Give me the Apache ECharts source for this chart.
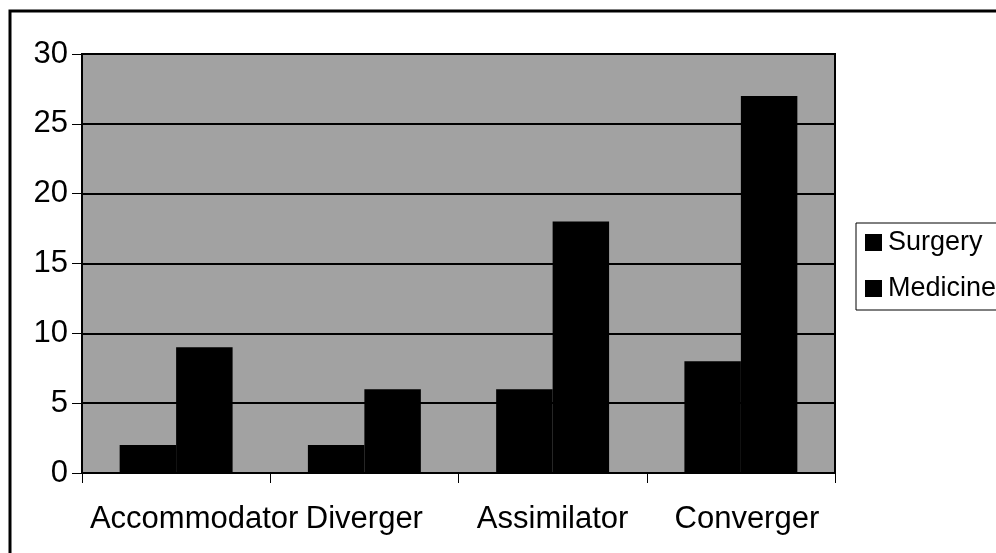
<!DOCTYPE html>
<html>
<head>
<meta charset="utf-8">
<script src="https://cdn.jsdelivr.net/npm/echarts@6/dist/echarts.min.js"></script>
<style>
  html, body { margin: 0; padding: 0; background: #fff; }
  #chart { width: 996px; height: 553px; }
</style>
</head>
<body>
<div id="chart"></div>
<script>
var categories = ['Accommodator', 'Diverger', 'Assimilator', 'Converger'];
var surgery = [2, 2, 6, 8];
var medicine = [9, 6, 18, 27];
var yTicks = [0, 5, 10, 15, 20, 25, 30];

var myChart = echarts.init(document.getElementById('chart'));
var font = 'Liberation Sans, Arial, sans-serif';
var option = {
	backgroundColor: '#fff',
	animation: false,
	graphic: [{
		type: 'rect',
		shape: { x: 10, y: 11, width: 1100, height: 700 },
		style: { fill: 'none', stroke: '#000', lineWidth: 3 },
		silent: true
	}],
	grid: {
		left: 82, right: 161, top: 54, bottom: 80,
		show: true,
		backgroundColor: '#a2a2a2',
		borderColor: '#000',
		borderWidth: 2
	},
	legend: {
		orient: 'vertical',
		left: 856, top: 223,
		width: 160,
		padding: [6, 40, 8, 9],
		itemGap: 19,
		itemWidth: 17, itemHeight: 17,
		icon: 'rect',
		backgroundColor: '#fff',
		borderColor: '#000',
		borderWidth: 1,
		borderRadius: 0,
		textStyle: { fontFamily: font, fontSize: 27, color: '#000', padding: [0, 0, 0, 1] },
		data: ['Surgery', 'Medicine']
	},
	xAxis: {
		type: 'category',
		data: categories,
		axisLine: { lineStyle: { color: '#000', width: 2 } },
		axisTick: { show: true, length: 10, lineStyle: { color: '#000', width: 1 } },
		axisLabel: {
			interval: 0,
			hideOverlap: false,
			margin: 31,
			color: '#000',
			fontFamily: font,
			fontSize: 31,
			formatter: function (v, i) {
				if (i === 0) return '{first|' + v + '}';
				if (i === 3) return '{last|' + v + '}';
				return v;
			},
			rich: {
				first: { fontFamily: font, fontSize: 31, color: '#000', padding: [0, 0, 0, 36] },
				last: { fontFamily: font, fontSize: 31, color: '#000', padding: [0, 0, 0, 12] }
			}
		}
	},
	yAxis: {
		type: 'value',
		min: yTicks[0],
		max: yTicks[yTicks.length - 1],
		interval: 5,
		axisLine: { show: true, lineStyle: { color: '#000', width: 2 } },
		axisTick: { show: true, length: 10, lineStyle: { color: '#000', width: 1 } },
		axisLabel: { margin: 14, color: '#000', fontFamily: font, fontSize: 31 },
		splitLine: { show: true, lineStyle: { color: '#000', width: 2 } }
	},
	series: [{
		name: 'Surgery',
		type: 'bar',
		data: surgery,
		barGap: '0%',
		barCategoryGap: '40%',
		itemStyle: { color: '#000' }
	}, {
		name: 'Medicine',
		type: 'bar',
		data: medicine,
		itemStyle: { color: '#000' }
	}]
};
myChart.setOption(option);
</script>
</body>
</html>
